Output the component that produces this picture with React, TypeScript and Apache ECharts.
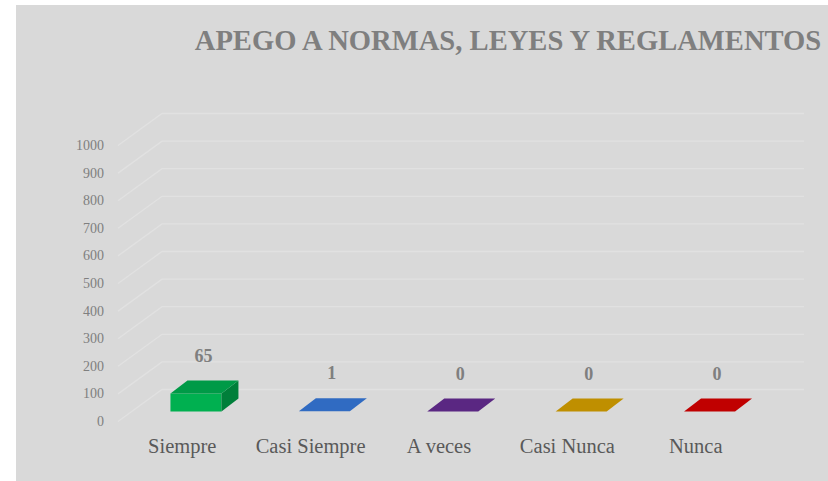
import React, { useEffect, useRef } from "react";
import * as echarts from "echarts";

const TITLE = "APEGO A NORMAS, LEYES Y REGLAMENTOS";
const categories = ["Siempre", "Casi Siempre", "A veces", "Casi Nunca", "Nunca"];
const values = [65, 1, 0, 0, 0];
const frontColors = ["#00b050", "#3a72c8", "#5e2a88", "#c49300", "#c80000"];
const topColors = ["#009a47", "#306bc2", "#5a2782", "#bf8f00", "#c00000"];
const sideColors = ["#007f3a", "#24549a", "#46206a", "#967000", "#980000"];
const yTicks = [0, 100, 200, 300, 400, 500, 600, 700, 800, 900, 1000];

const FONT = "Liberation Serif";
const DEPTH_X = 44;
const DEPTH_Y = 32;

export default function App() {
  const ref = useRef<HTMLDivElement>(null);
  useEffect(() => {
    const chart = echarts.init(ref.current!, null, { renderer: "svg" });
    const barData = categories.map((c, i) => [i, values[i]]);
    const gridData = yTicks.map((t) => [0, t]);
    chart.setOption({
      animation: false,
      backgroundColor: "#ffffff",
      textStyle: { fontFamily: FONT },
      graphic: [
        {
          type: "rect",
          z: -10,
          silent: true,
          shape: { x: 16, y: 5, width: 812, height: 476 },
          style: { fill: "#d9d9d9" },
        },
      ],
      title: {
        text: TITLE,
        left: 503,
        top: 21,
        textAlign: "center",
        textStyle: {
          fontFamily: FONT,
          fontWeight: "bold",
          fontSize: 28.6,
          color: "#7f7f7f",
        },
      },
      grid: { left: 118, top: 145.5, width: 642, height: 276 },
      xAxis: {
        type: "category",
        data: categories,
        axisLine: { show: false },
        axisTick: { show: false },
        axisLabel: {
          interval: 0,
          margin: 14,
          fontFamily: FONT,
          fontSize: 20.5,
          color: "#595959",
        },
      },
      yAxis: {
        type: "value",
        min: 0,
        max: 1000,
        interval: 100,
        splitLine: { show: false },
        axisLine: { show: false },
        axisTick: { show: false },
        axisLabel: {
          margin: 14,
          fontFamily: FONT,
          fontSize: 14,
          color: "#7f7f7f",
          formatter: (v: number) => String(yTicks[yTicks.indexOf(v)] ?? v),
        },
      },
      series: [
        {
          type: "custom",
          name: "grid3d",
          silent: true,
          clip: false,
          z: 1,
          data: gridData,
          renderItem: (params: any, api: any) => {
            const cs = params.coordSys;
            const y = api.coord([0, api.value(1)])[1];
            const x0 = cs.x;
            const xr = cs.x + cs.width;
            return {
              type: "polyline",
              shape: {
                points: [
                  [x0, y],
                  [x0 + DEPTH_X, y - DEPTH_Y],
                  [xr + DEPTH_X, y - DEPTH_Y],
                ],
              },
              style: { stroke: "#e1e1e1", lineWidth: 1.3, fill: "none" },
            };
          },
        },
        {
          type: "custom",
          name: "bars",
          clip: false,
          z: 5,
          data: barData,
          renderItem: (params: any, api: any) => {
            const i = api.value(0);
            const v = api.value(1);
            const base = api.coord([i, 0]);
            const top = api.coord([i, v]);
            const offX = 13.75;
            const offY = -10;
            const w = 51;
            const dX = 17;
            const dY = -13;
            const xl = base[0] + offX - w / 2;
            const xr = base[0] + offX + w / 2;
            const yb = base[1] + offY;
            const yt = top[1] + offY;
            const children: any[] = [];
            if (yb - yt > 0.5) {
              children.push({
                type: "polygon",
                shape: { points: [[xl, yt], [xr, yt], [xr, yb], [xl, yb]] },
                style: { fill: frontColors[i] },
              });
              children.push({
                type: "polygon",
                shape: { points: [[xr, yt], [xr + dX, yt + dY], [xr + dX, yb + dY], [xr, yb]] },
                style: { fill: sideColors[i] },
              });
            }
            children.push({
              type: "polygon",
              shape: { points: [[xl, yt], [xr, yt], [xr + dX, yt + dY], [xl + dX, yt + dY]] },
              style: { fill: topColors[i] },
            });
            children.push({
              type: "text",
              style: {
                text: String(v),
                x: (xl + xr + dX) / 2 - 1,
                y: yt + dY - 25,
                align: "center",
                verticalAlign: "middle",
                fontFamily: FONT,
                fontWeight: "bold",
                fontSize: 18,
                fill: "#7f7f7f",
              },
            });
            return { type: "group", children };
          },
        },
      ],
    });
    return () => chart.dispose();
  }, []);
  return (
    <div style={{ position: "absolute", left: 0, top: 0, width: 828, height: 481 }}>
      <div ref={ref} style={{ width: 828, height: 481 }} />
    </div>
  );
}
